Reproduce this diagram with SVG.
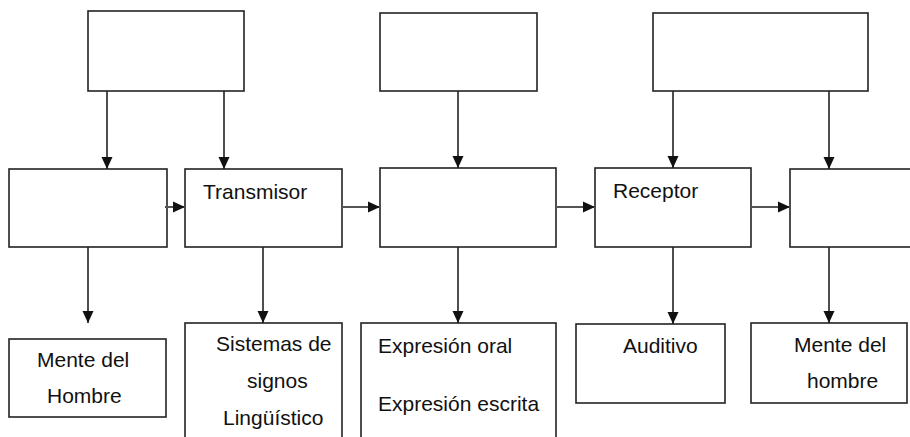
<svg xmlns="http://www.w3.org/2000/svg" width="910" height="437" viewBox="0 0 910 437">
<defs>
<style>
.box{fill:#fff;stroke:#222;stroke-width:1.6}
.con{fill:none;stroke:#222;stroke-width:1.6}
.h{stroke:#555;stroke-width:2}
text{font-family:"Liberation Sans",Arial,sans-serif;font-size:21px;fill:#111}
</style>
<marker id="ah" markerUnits="userSpaceOnUse" markerWidth="12" markerHeight="12" viewBox="0 0 12 12" refX="12" refY="6" orient="auto">
<path d="M0,0.5 L12,6 L0,11.5 Z" fill="#111"/>
</marker>
</defs>
<rect width="910" height="437" fill="#fff"/>
<g id="top1"><rect class="box" x="88" y="11" width="156" height="80"/></g>
<g id="top2"><rect class="box" x="380" y="13" width="157" height="78"/></g>
<g id="top3"><rect class="box" x="653" y="13" width="215" height="78"/></g>
<g id="mid1"><rect class="box" x="9" y="169" width="158" height="78"/></g>
<g id="transmisor"><rect class="box" x="185" y="169" width="157" height="78"/><text x="203" y="199">Transmisor</text></g>
<g id="mid3"><rect class="box" x="380" y="168" width="176" height="79"/></g>
<g id="receptor"><rect class="box" x="595" y="168" width="156" height="79"/><text x="613" y="198">Receptor</text></g>
<g id="mid5"><rect class="box" x="790" y="169" width="125" height="78"/></g>
<g id="bot1"><rect class="box" x="9" y="339" width="157" height="78"/><text x="37" y="367">Mente del</text><text x="47" y="403">Hombre</text></g>
<g id="bot2"><rect class="box" x="185" y="323" width="157" height="120"/><text x="216" y="351">Sistemas de</text><text x="247" y="388">signos</text><text x="223" y="425">Lingüístico</text></g>
<g id="bot3"><rect class="box" x="361" y="323" width="195" height="120"/><text x="378" y="353">Expresión oral</text><text x="378" y="411">Expresión escrita</text></g>
<g id="bot4"><rect class="box" x="576" y="324" width="149" height="79"/><text x="623" y="353">Auditivo</text></g>
<g id="bot5"><rect class="box" x="751" y="323" width="156" height="80"/><text x="794" y="352">Mente del</text><text x="807" y="388">hombre</text></g>
<g id="connectors">
<line class="con" x1="107" y1="91" x2="107" y2="169" marker-end="url(#ah)"/>
<line class="con" x1="224" y1="91" x2="224" y2="169" marker-end="url(#ah)"/>
<line class="con" x1="458" y1="91" x2="458" y2="168" marker-end="url(#ah)"/>
<line class="con" x1="673" y1="91" x2="673" y2="168" marker-end="url(#ah)"/>
<line class="con" x1="829" y1="91" x2="829" y2="169" marker-end="url(#ah)"/>
<line class="con h" x1="165" y1="207" x2="185" y2="207" marker-end="url(#ah)"/>
<line class="con h" x1="342" y1="207" x2="380" y2="207" marker-end="url(#ah)"/>
<line class="con h" x1="556" y1="207" x2="595" y2="207" marker-end="url(#ah)"/>
<line class="con h" x1="751" y1="207" x2="790" y2="207" marker-end="url(#ah)"/>
<line class="con" x1="88" y1="247" x2="88" y2="323" marker-end="url(#ah)"/>
<line class="con" x1="263" y1="247" x2="263" y2="323" marker-end="url(#ah)"/>
<line class="con" x1="458" y1="247" x2="458" y2="323" marker-end="url(#ah)"/>
<line class="con" x1="673" y1="247" x2="673" y2="324" marker-end="url(#ah)"/>
<line class="con" x1="829" y1="247" x2="829" y2="323" marker-end="url(#ah)"/>
</g>
</svg>
